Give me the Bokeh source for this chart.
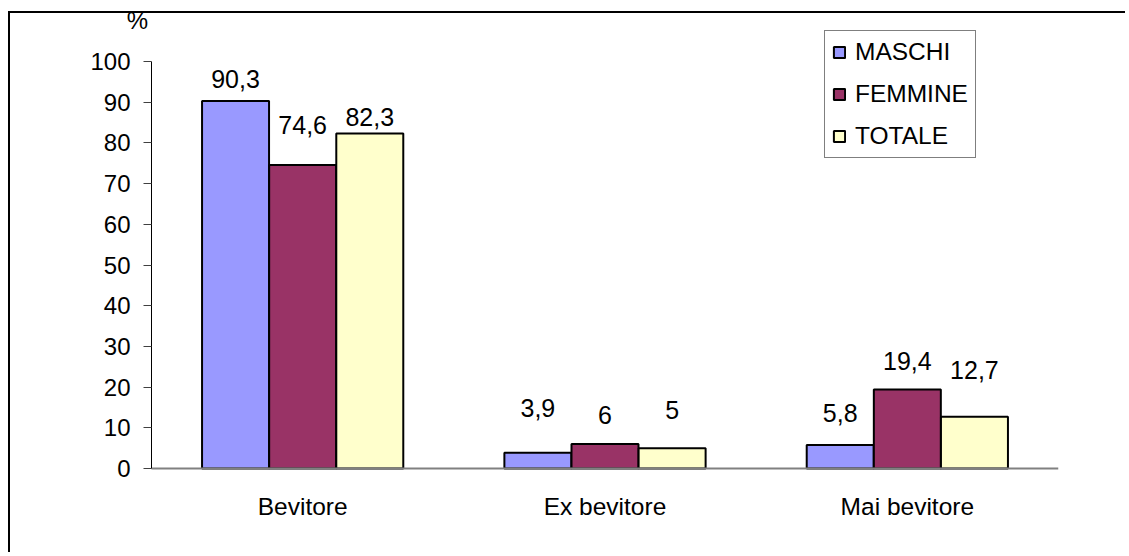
from bokeh.plotting import figure
from bokeh.models import (ColumnDataSource, LabelSet, Label, Legend, LegendItem, Range1d,
                          FixedTicker, LinearAxis)
from bokeh.transform import dodge
from bokeh.core.properties import value
from bokeh.embed import file_html
from bokeh.resources import INLINE

categories = ["Bevitore", "Ex bevitore", "Mai bevitore"]
series = ["MASCHI", "FEMMINE", "TOTALE"]
maschi = [90.3, 3.9, 5.8]
femmine = [74.6, 6.0, 19.4]
totale = [82.3, 5.0, 12.7]
label_text_m = ["90,3", "3,9", "5,8"]
label_text_f = ["74,6", "6", "19,4"]
label_text_t = ["82,3", "5", "12,7"]
y_ticks = [0, 10, 20, 30, 40, 50, 60, 70, 80, 90, 100]

# styling (label gaps above bar tops, in px)
gap_m = [13, 36, 23]
gap_f = [31, 20, 20]
gap_t = [8, 29, 38]
colors = ["#9999FF", "#993366", "#FFFFCC"]
FONT = "Liberation Sans"

# layout (page px)
W, H = 1125, 552
frame_left, frame_right, frame_top, frame_bottom = 70, 1058, 0, 484
axis_x, y0_px, y100_px = 151, 468, 61
unit_px = (frame_right - axis_x) / len(categories)
px_per_y = (y0_px - y100_px) / 100.0

xc = [i + 0.5 for i in range(len(categories))]

p = figure(x_range=Range1d(-(axis_x - frame_left) / unit_px, len(categories)),
           y_range=Range1d(-(frame_bottom - y0_px) / px_per_y, (y0_px - frame_top) / px_per_y),
           width=W, height=H, output_backend="svg", toolbar_location=None,
           min_border_left=frame_left, min_border_right=W - frame_right,
           min_border_top=frame_top, min_border_bottom=H - frame_bottom)
p.styles = {
    "background-image": "linear-gradient(#000,#000), linear-gradient(#000,#000)",
    "background-size": f"{W - 8}px 2px, 2px {H - 11}px",
    "background-position": "8px 11px, 8px 11px",
    "background-repeat": "no-repeat",
}
p.outline_line_color = None
p.xgrid.grid_line_color = None
p.ygrid.grid_line_color = None
p.background_fill_alpha = 0
p.border_fill_alpha = 0

src = ColumnDataSource(dict(xc=xc, m=maschi, f=femmine, t=totale,
                            lm=label_text_m, lf=label_text_f, lt=label_text_t,
                            gm=gap_m, gf=gap_f, gt=gap_t))

bw = 0.2216
off = 0.222
items = []
for key, lab, gap, name, col, dx in [("m", "lm", "gm", series[0], colors[0], -off),
                                     ("f", "lf", "gf", series[1], colors[1], 0.0),
                                     ("t", "lt", "gt", series[2], colors[2], off)]:
    r = p.vbar(x=dodge("xc", dx), top=key, bottom=0, width=bw, source=src,
               fill_color=col, line_color="black", line_width=2)
    items.append(LegendItem(label=name, renderers=[r]))
    ls = LabelSet(x=dodge("xc", dx), y=key, text=lab, y_offset=gap,
                  source=src, text_align="center", text_baseline="alphabetic",
                  text_font=value(FONT), text_font_size="25px", text_color="black")
    p.add_layout(ls)

legend = Legend(items=items, location=(824 - frame_left, frame_bottom - 158), orientation="vertical")
legend.label_text_font = FONT
legend.label_text_font_size = "24.5px"
legend.label_text_color = "black"
legend.glyph_width = 14
legend.glyph_height = 14
legend.label_height = 26
legend.label_standoff = 9
legend.spacing = 14
legend.padding = 7
legend.margin = 0
legend.border_line_color = "black"
legend.border_line_width = 1
legend.background_fill_color = "white"
legend.background_fill_alpha = 1
p.add_layout(legend, "center")

# y axis
p.yaxis.ticker = FixedTicker(ticks=y_ticks)
p.yaxis.bounds = (0, 100)
p.yaxis.fixed_location = 0
p.yaxis.axis_line_color = "black"
p.yaxis.axis_line_width = 1
p.yaxis.major_tick_line_color = "#404040"
p.yaxis.major_tick_in = 0
p.yaxis.major_tick_out = 8
p.yaxis.minor_tick_line_color = None
p.yaxis.major_label_standoff = 13
p.yaxis.major_label_text_font = FONT
p.yaxis.major_label_text_font_size = "24px"
p.yaxis.major_label_text_color = "black"

# x axis: category labels (below the frame)
xa = p.xaxis[0]
xa.ticker = FixedTicker(ticks=xc)
xa.major_label_overrides = {x: c for x, c in zip(xc, categories)}
xa.axis_line_color = None
xa.major_tick_line_color = None
xa.minor_tick_line_color = None
xa.major_tick_out = 0
xa.major_tick_in = 0
xa.major_label_standoff = 8
xa.major_label_text_font = FONT
xa.major_label_text_font_size = "24.5px"
xa.major_label_text_color = "black"

# x axis line at zero
xline = LinearAxis(fixed_location=0, bounds=(0, len(categories)), ticker=FixedTicker(ticks=[]),
                   axis_line_color="#808080", axis_line_width=2,
                   major_tick_line_color=None, minor_tick_line_color=None,
                   major_label_text_font_size="1px", major_label_standoff=0)
p.add_layout(xline, "below")

pct = Label(x=0, y=100, x_offset=-14, y_offset=41, text="%",
            text_align="center", text_baseline="middle",
            text_font=FONT, text_font_size="24px", text_color="black")
p.add_layout(pct)

open("out.html", "w").write(file_html(p, INLINE))
